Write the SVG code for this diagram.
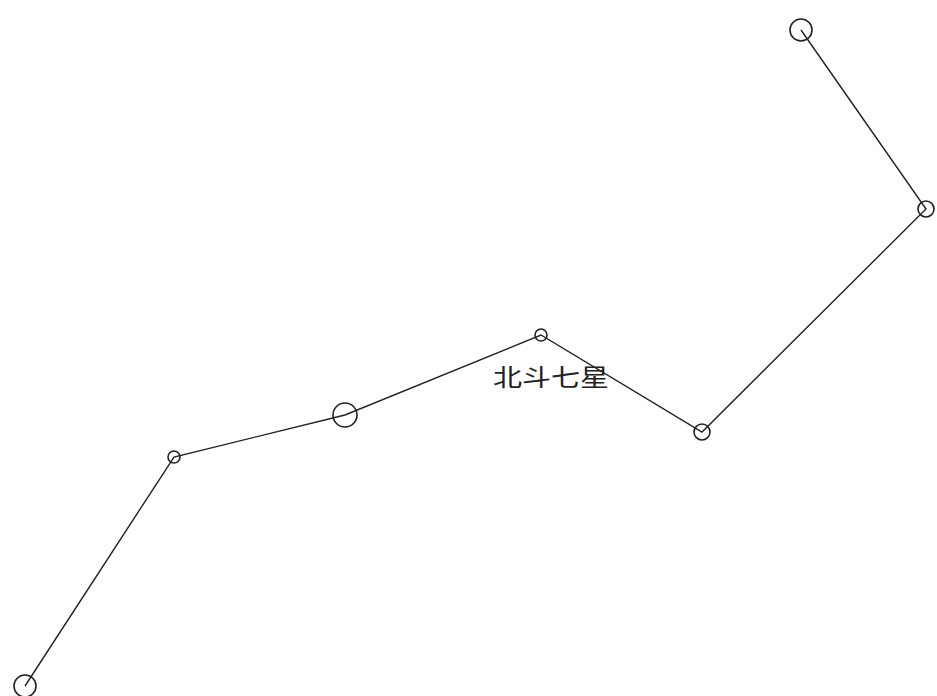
<svg xmlns="http://www.w3.org/2000/svg" width="937" height="696" viewBox="0 0 937 696">
<style>
.star{fill:none;stroke:#222;stroke-width:1.6}
.link{fill:none;stroke:#222;stroke-width:1.4}
.lbl{font-family:"Liberation Sans","Noto Sans CJK SC",sans-serif;font-size:24px;fill:#222}
</style>
<rect width="937" height="696" fill="#fff"/>
<g id="connectors">
<polyline class="link" points="801,30 926,209 702,432 541,335 345,415 174,457 25,686"/>
</g>
<g id="star1"><circle class="star" cx="801" cy="30" r="11"/></g>
<g id="star2"><circle class="star" cx="926" cy="209" r="8"/></g>
<g id="star3"><circle class="star" cx="702" cy="432" r="8"/></g>
<g id="star4"><circle class="star" cx="541" cy="335" r="6"/></g>
<g id="star5"><circle class="star" cx="345" cy="415" r="12"/></g>
<g id="star6"><circle class="star" cx="174" cy="457" r="6"/></g>
<g id="star7"><circle class="star" cx="25" cy="686" r="11"/></g>
<g id="label"><text class="lbl" x="493" y="386" textLength="116" lengthAdjust="spacingAndGlyphs">北斗七星</text></g>
</svg>
